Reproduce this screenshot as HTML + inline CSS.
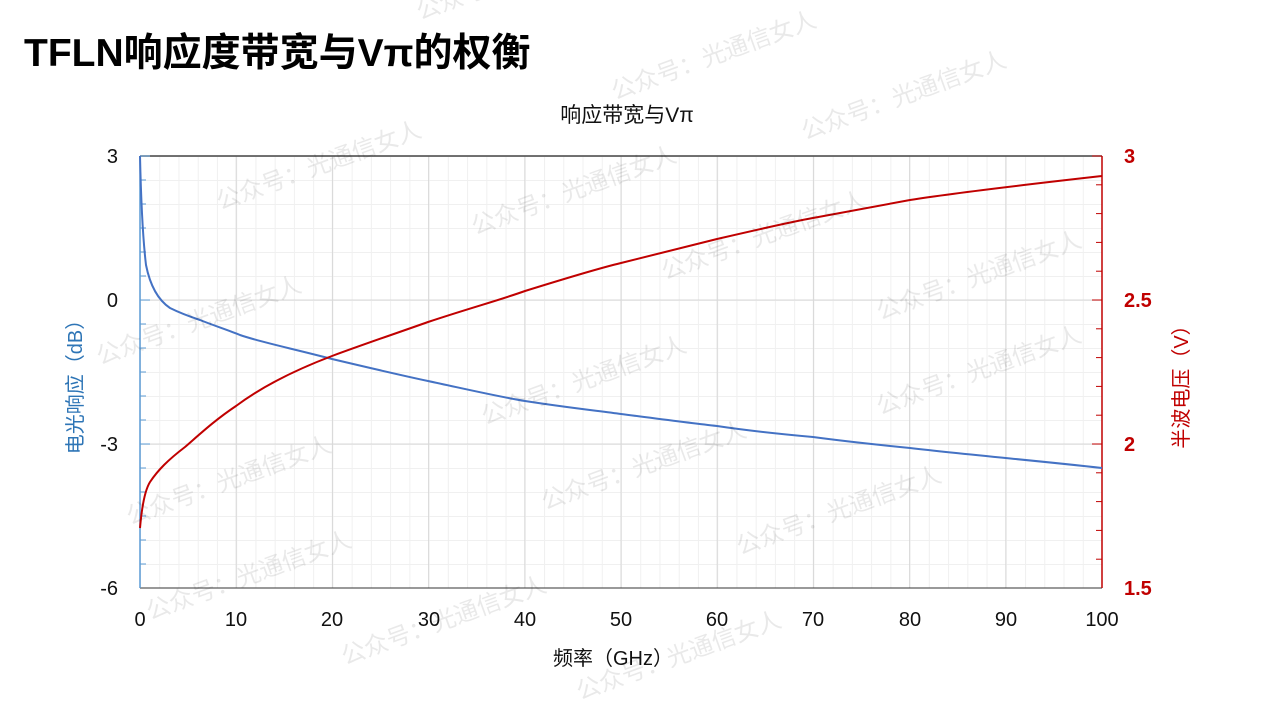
<!DOCTYPE html>
<html><head><meta charset="utf-8"><style>
html,body{margin:0;padding:0;background:#fff;width:1268px;height:713px;overflow:hidden;font-family:"Liberation Sans","Noto Sans CJK SC",sans-serif}
</style></head><body>
<svg width="1268" height="713" xmlns="http://www.w3.org/2000/svg" font-family="Liberation Sans, Noto Sans CJK SC, sans-serif">
<defs>
<pattern id="mg" x="140" y="156" width="19.24" height="24" patternUnits="userSpaceOnUse">
<path d="M0.5,0 V24 M0,0.5 H19.24" stroke="#f0f0f0" stroke-width="1" fill="none"/>
</pattern>
</defs>
<text x="24" y="66" font-size="39" font-weight="bold" fill="#000">TFLN响应度带宽与Vπ的权衡</text>
<text x="627" y="122" font-size="21" text-anchor="middle" fill="#111">响应带宽与Vπ</text>
<rect x="140" y="156" width="962" height="432" fill="url(#mg)"/>
<g stroke="#d8d8d8" stroke-width="1">
<line x1="236.2" y1="156" x2="236.2" y2="588"/><line x1="332.4" y1="156" x2="332.4" y2="588"/><line x1="428.6" y1="156" x2="428.6" y2="588"/><line x1="524.8" y1="156" x2="524.8" y2="588"/><line x1="621" y1="156" x2="621" y2="588"/><line x1="717.2" y1="156" x2="717.2" y2="588"/><line x1="813.4" y1="156" x2="813.4" y2="588"/><line x1="909.6" y1="156" x2="909.6" y2="588"/><line x1="1005.8" y1="156" x2="1005.8" y2="588"/>
<line x1="140" y1="300" x2="1102" y2="300"/><line x1="140" y1="444" x2="1102" y2="444"/>
</g>
<line x1="140" y1="156" x2="1102" y2="156" stroke="#444" stroke-width="1.5"/>
<line x1="140" y1="588" x2="1102" y2="588" stroke="#333" stroke-width="1"/>
<line x1="140" y1="156" x2="140" y2="588" stroke="#5b9bd5" stroke-width="1.5"/>
<line x1="1102" y1="156" x2="1102" y2="588" stroke="#c00000" stroke-width="1.5"/>
<g stroke="#5b9bd5">
<line x1="140" y1="156" x2="150" y2="156"/><line x1="140" y1="180" x2="146" y2="180"/><line x1="140" y1="204" x2="146" y2="204"/><line x1="140" y1="228" x2="146" y2="228"/><line x1="140" y1="252" x2="146" y2="252"/><line x1="140" y1="276" x2="146" y2="276"/><line x1="140" y1="300" x2="150" y2="300"/><line x1="140" y1="324" x2="146" y2="324"/><line x1="140" y1="348" x2="146" y2="348"/><line x1="140" y1="372" x2="146" y2="372"/><line x1="140" y1="396" x2="146" y2="396"/><line x1="140" y1="420" x2="146" y2="420"/><line x1="140" y1="444" x2="150" y2="444"/><line x1="140" y1="468" x2="146" y2="468"/><line x1="140" y1="492" x2="146" y2="492"/><line x1="140" y1="516" x2="146" y2="516"/><line x1="140" y1="540" x2="146" y2="540"/><line x1="140" y1="564" x2="146" y2="564"/>
</g>
<g stroke="#c00000">
<line x1="1092" y1="156" x2="1102" y2="156"/><line x1="1096" y1="184.8" x2="1102" y2="184.8"/><line x1="1096" y1="213.6" x2="1102" y2="213.6"/><line x1="1096" y1="242.4" x2="1102" y2="242.4"/><line x1="1096" y1="271.2" x2="1102" y2="271.2"/><line x1="1092" y1="300" x2="1102" y2="300"/><line x1="1096" y1="328.8" x2="1102" y2="328.8"/><line x1="1096" y1="357.6" x2="1102" y2="357.6"/><line x1="1096" y1="386.4" x2="1102" y2="386.4"/><line x1="1096" y1="415.2" x2="1102" y2="415.2"/><line x1="1092" y1="444" x2="1102" y2="444"/><line x1="1096" y1="472.8" x2="1102" y2="472.8"/><line x1="1096" y1="501.6" x2="1102" y2="501.6"/><line x1="1096" y1="530.4" x2="1102" y2="530.4"/><line x1="1096" y1="559.2" x2="1102" y2="559.2"/>
</g>
<g font-size="20" fill="#111" text-anchor="end">
<text x="118" y="163">3</text><text x="118" y="307">0</text><text x="118" y="451">-3</text><text x="118" y="595">-6</text>
</g>
<g font-size="20" fill="#c00000" font-weight="bold">
<text x="1124" y="163">3</text><text x="1124" y="307">2.5</text><text x="1124" y="451">2</text><text x="1124" y="595">1.5</text>
</g>
<g font-size="20" fill="#111" text-anchor="middle">
<text x="140" y="626">0</text><text x="236" y="626">10</text><text x="332" y="626">20</text><text x="429" y="626">30</text><text x="525" y="626">40</text><text x="621" y="626">50</text><text x="717" y="626">60</text><text x="813" y="626">70</text><text x="910" y="626">80</text><text x="1006" y="626">90</text><text x="1102" y="626">100</text>
</g>
<text x="613" y="665" font-size="20" text-anchor="middle" fill="#111">频率（GHz）</text>
<text transform="translate(82,382) rotate(-90)" font-size="20" text-anchor="middle" fill="#2e75b6">电光响应（dB）</text>
<text transform="translate(1188,382) rotate(-90)" font-size="20" text-anchor="middle" fill="#c00000">半波电压（V）</text>
<path fill="none" stroke="#4472c4" stroke-width="2" d="M140,156 C141,200 143,240 146,265 C150,285 158,300 170,308 C180,313 188,316 200,320 C215,326 228,330 240,335 C260,342 290,348 332,359 C370,368 400,375 428,381 C470,390 500,397 525,401 C570,408 600,411 621,414 C660,419 690,423 717,426 C750,431 780,434 813,437 C850,442 880,445 910,448 C970,455 1040,461 1102,468"/>
<path fill="none" stroke="#c00000" stroke-width="2" d="M140,528 C142,505 145,490 150,482 C158,470 168,460 185,447 C200,434 215,420 236,406 C260,388 290,372 332,356 C370,342 400,332 428,322 C470,308 500,300 525,291 C570,277 600,268 621,263 C660,253 690,246 717,239 C760,229 790,222 813,218 C860,209 890,204 910,200 C960,192 1040,183 1102,176"/>
<g font-size="24" fill="#000" opacity="0.09">
<text transform="translate(420,20) rotate(-20)">公众号：光通信女人</text>
<text transform="translate(615,100) rotate(-20)">公众号：光通信女人</text>
<text transform="translate(805,140) rotate(-20)">公众号：光通信女人</text>
<text transform="translate(220,210) rotate(-20)">公众号：光通信女人</text>
<text transform="translate(475,235) rotate(-20)">公众号：光通信女人</text>
<text transform="translate(665,280) rotate(-20)">公众号：光通信女人</text>
<text transform="translate(880,320) rotate(-20)">公众号：光通信女人</text>
<text transform="translate(100,365) rotate(-20)">公众号：光通信女人</text>
<text transform="translate(485,425) rotate(-20)">公众号：光通信女人</text>
<text transform="translate(880,415) rotate(-20)">公众号：光通信女人</text>
<text transform="translate(130,525) rotate(-20)">公众号：光通信女人</text>
<text transform="translate(545,510) rotate(-20)">公众号：光通信女人</text>
<text transform="translate(740,555) rotate(-20)">公众号：光通信女人</text>
<text transform="translate(150,620) rotate(-20)">公众号：光通信女人</text>
<text transform="translate(345,665) rotate(-20)">公众号：光通信女人</text>
<text transform="translate(580,700) rotate(-20)">公众号：光通信女人</text>
</g>
</svg>
</body></html>
